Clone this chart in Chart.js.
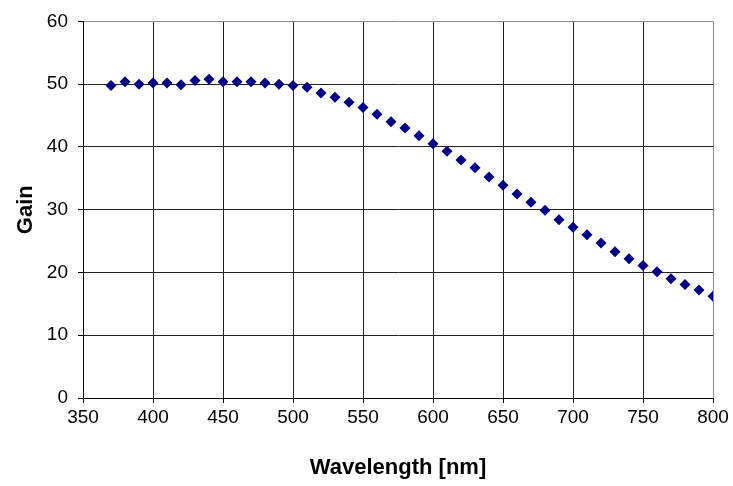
<!DOCTYPE html>
<html lang="en">
  <head>
    <meta charset="UTF-8" />
    <title>Gain vs Wavelength</title>
    <style>
      html,
      body {
        margin: 0;
        padding: 0;
        background-color: #ffffff;
      }
      #wrap {
        width: 733px;
        height: 486px;
      }
    </style>
  </head>
  <body>
    <div id="wrap"><canvas id="graph" width="733" height="486"></canvas></div>

    <script src="https://cdn.jsdelivr.net/npm/chart.js"></script>
    <script>
      // wavelength in nm, one sample every 10 nm
      const wavelengths = [
        370, 380, 390, 400, 410, 420, 430, 440, 450, 460, 470, 480, 490, 500,
        510, 520, 530, 540, 550, 560, 570, 580, 590, 600, 610, 620, 630, 640,
        650, 660, 670, 680, 690, 700, 710, 720, 730, 740, 750, 760, 770, 780,
        790, 800,
      ];
      const gain = [
        49.8, 50.4, 50.0, 50.2, 50.2, 49.9, 50.6, 50.8, 50.4, 50.4, 50.4, 50.2,
        50.0, 49.8, 49.5, 48.6, 47.9, 47.1, 46.3, 45.2, 44.0, 43.0, 41.8, 40.5,
        39.3, 37.9, 36.7, 35.2, 33.9, 32.5, 31.2, 29.9, 28.4, 27.2, 26.0, 24.7,
        23.3, 22.2, 21.1, 20.1, 19.0, 18.1, 17.2, 16.2,
      ];
      const xTicks = [350, 400, 450, 500, 550, 600, 650, 700, 750, 800];
      const yTicks = [0, 10, 20, 30, 40, 50, 60];

      const tickFont = { family: "Arial, 'Liberation Sans', sans-serif", size: 19 };
      const titleFont = { family: "Arial, 'Liberation Sans', sans-serif", size: 22, weight: "bold" };

      new Chart(document.querySelector("#graph").getContext("2d"), {
        type: "scatter",
        data: {
          datasets: [
            {
              label: "Gain",
              data: wavelengths.map((w, i) => ({ x: w, y: gain[i] })),
              pointStyle: "rectRot",
              pointRadius: 5.5,
              backgroundColor: "#000080",
              borderColor: "#000080",
              borderWidth: 0,
            },
          ],
        },
        options: {
          responsive: false,
          animation: false,
          layout: { padding: { top: 17, right: 20, bottom: 0, left: 0 } },
          plugins: { legend: { display: false }, tooltip: { enabled: false } },
          scales: {
            x: {
              type: "linear",
              min: xTicks[0],
              max: xTicks[xTicks.length - 1],
              afterBuildTicks: (scale) => {
                scale.ticks = xTicks.map((v) => ({ value: v }));
              },
              afterFit: (scale) => {
                scale.height = 88;
              },
              ticks: { color: "#000", font: tickFont, padding: 3, maxRotation: 0 },
              grid: {
                color: (ctx) => (ctx.tick && ctx.tick.value === 800 ? "#8a8a8a" : "#222"),
                tickColor: "#000",
                tickLength: 5,
              },
              border: { color: "#000", width: 1 },
              title: {
                display: true,
                text: "Wavelength [nm]",
                color: "#000",
                font: titleFont,
                padding: { top: 4, bottom: 5 },
              },
            },
            y: {
              min: yTicks[0],
              max: yTicks[yTicks.length - 1],
              afterBuildTicks: (scale) => {
                scale.ticks = yTicks.map((v) => ({ value: v }));
              },
              afterFit: (scale) => {
                scale.width = 83;
              },
              ticks: { color: "#000", font: tickFont, padding: 10 },
              grid: {
                color: (ctx) => (ctx.tick && ctx.tick.value === 60 ? "#8a8a8a" : "#222"),
                tickColor: "#000",
                tickLength: 5,
              },
              border: { color: "#000", width: 1 },
              title: {
                display: true,
                text: "Gain",
                color: "#000",
                font: titleFont,
                padding: { top: 13, bottom: 0 },
              },
            },
          },
        },
      });
    </script>
  </body>
</html>
